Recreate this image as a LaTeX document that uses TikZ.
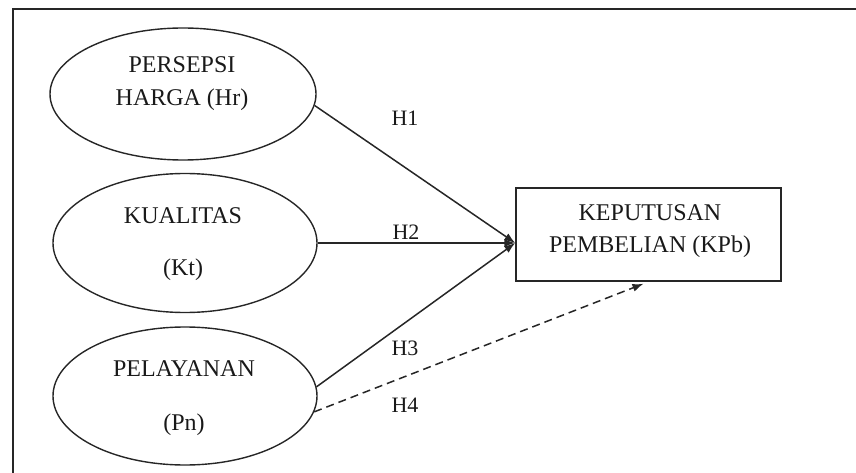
\documentclass[tikz,border=0pt]{standalone}
\usepackage{fontspec}
\setmainfont{Liberation Serif}
\usetikzlibrary{shapes.geometric,arrows.meta,calc}
\tikzset{
  var/.style={ellipse, draw=black!85, line width=1.4pt, inner sep=0pt},
  txt/.style={anchor=base, inner sep=0pt, text=black!90, font=\fontsize{24}{28}\selectfont},
  hlab/.style={anchor=base, inner sep=0pt, text=black!90, font=\fontsize{22}{26}\selectfont},
  link/.style={draw=black!85, line width=1.5pt, -{Latex[length=11pt,width=8pt]}},
}
\begin{document}
\begin{tikzpicture}[x=1pt,y=-1pt]
\useasboundingbox (0,0) rectangle (856,473);
\draw[line width=2.2pt, black!85] (13,473) -- (13,9) -- (856,9);
% ellipses
\node[var, minimum width=266pt, minimum height=132pt] (e1) at (183,94) {};
\node[var, minimum width=264pt, minimum height=139pt] (e2) at (185,243) {};
\node[var, minimum width=264pt, minimum height=138pt] (e3) at (185,396) {};
% box
\node[draw=black!85, line width=1.5pt, minimum width=265pt, minimum height=93pt, inner sep=0pt] (kpb) at (648.5,234.5) {};
% texts
\node[txt] (t1a) at (182,73) {PERSEPSI};
\node[txt] (t1b) at (182,106) {HARGA (Hr)};
\node[txt] (t2a) at (183,223) {KUALITAS};
\node[txt] (t2b) at (183,275) {(Kt)};
\node[txt] (t3a) at (184,376) {PELAYANAN};
\node[txt] (t3b) at (184,430) {(Pn)};
\node[txt] (tka) at (650,220.5) {KEPUTUSAN};
\node[txt] (tkb) at (650,252.5) {PEMBELIAN (KPb)};
% arrow targets
\coordinate (tip) at ($(kpb.west)+(0,8.5)$);
\coordinate (tip4) at ($(kpb.south)+(-5,2)$);
% connectors
\draw[link] (e1.-5.5) -- (tip);
\draw[link] (e2.east) -- (tip);
\draw[link] (e3.4) -- (tip);
\draw[link, dash pattern=on 8pt off 5pt] (e3.-7) -- (tip4);
% labels
\node[hlab] (h1) at (405,126) {H1};
\node[hlab] (h2) at (406,239) {H2};
\node[hlab] (h3) at (405,355) {H3};
\node[hlab] (h4) at (405,412) {H4};
\end{tikzpicture}
\end{document}
